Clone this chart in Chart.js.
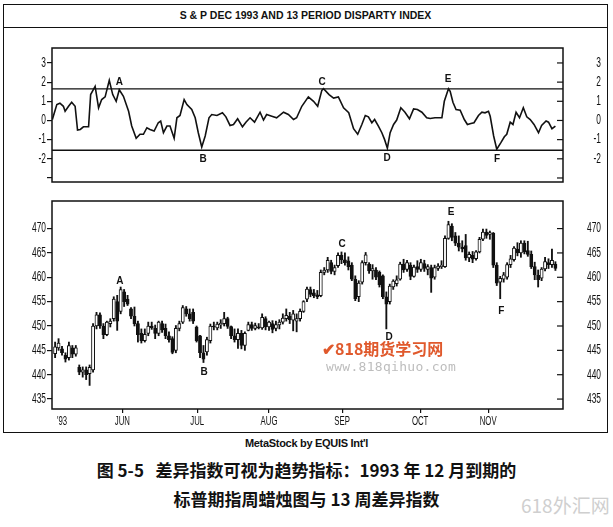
<!DOCTYPE html>
<html>
<head>
<meta charset="utf-8">
<script src="https://cdn.jsdelivr.net/npm/chart.js@4.4.0/dist/chart.umd.min.js"></script>
<style>
  body { margin: 0; background: #fff; width: 613px; height: 527px; position: relative; overflow: hidden; }
  .abs { position: absolute; }
  #frame { left: 3px; top: 4px; width: 605px; height: 429px; border: 1.5px solid #111; box-sizing: border-box; }
  #hdr { left: 3px; top: 4px; width: 605px; height: 24px; border-bottom: 1.5px solid #111; box-sizing: border-box;
         text-align: center; font: bold 10.5px 'Liberation Sans', Arial, sans-serif; line-height: 22px; color: #111; }
  #topBox { left: 0; top: 40px; width: 613px; height: 150px; }
  #botBox { left: 0; top: 193px; width: 613px; height: 242px; }
  #credit { left: 0; top: 437px; width: 613px; text-align: center; font: bold 11px 'Liberation Sans', Arial, sans-serif; color: #111; letter-spacing: -0.3px; }
  .cap { left: 0; width: 613px; text-align: center; font: 600 17px 'Noto Sans CJK SC', sans-serif; color: #111; }
  #wm1 { left: 322px; top: 336px; font: bold 16px 'Noto Sans CJK SC', sans-serif; color: #e0592c; }
  #wm2 { left: 326px; top: 359px; font: 13px 'DejaVu Sans Mono', monospace; color: #bdbdbd; letter-spacing: 0.3px; }
  #wm3 { left: 521px; top: 491px; font: 19px 'Noto Sans CJK SC', sans-serif; color: #cfcfcf; }
</style>
</head>
<body>
<div id="frame" class="abs"></div>
<div id="hdr" class="abs">S &amp; P DEC 1993 AND 13 PERIOD DISPARTY INDEX</div>
<div id="topBox" class="abs"><canvas id="dispChart"></canvas></div>
<div id="botBox" class="abs"><canvas id="priceChart"></canvas></div>
<div id="wm1" class="abs">✔818期货学习网</div>
<div id="wm2" class="abs">www.818qihuo.com</div>
<div id="credit" class="abs">MetaStock by EQUIS Int'l</div>
<div class="abs cap" style="top:457px">图 5-5&nbsp;&nbsp;&nbsp;差异指数可视为趋势指标：1993 年 12 月到期的</div>
<div class="abs cap" style="top:486px">标普期指周蜡烛图与 13 周差异指数</div>
<div id="wm3" class="abs">618外汇网</div>

<script>
// 13 period disparity index (trading day, value)
const dispT = [
  -0.8, 0.5, 1.4, 2.4, 2.9, 3.9, 4.8, 5.8, 6.5, 7.3, 8.2, 9.7, 10.3, 11.6, 12.6, 13.5, 14.5, 15.7, 16.7, 17.7,
  18.6, 19.8, 21.3, 22.2, 23.5, 24.6, 25.6, 26.6, 27.5, 28.7, 29.9, 30.6, 31.4, 32.4, 33.3, 34.5, 35.3, 36.2, 37.4, 38.2,
  39.6, 40.6, 41.5, 42.5, 43.5, 44.6,
  45.4, 46.9, 48.5, 49.5, 50.7, 51.7, 52.9, 54.3, 55.3, 56.5, 57.8, 59.4, 60.4, 61.3, 62.8, 64.2, 66.2, 67.6, 69.1, 70.0,
  71.5, 73.4, 74.9, 76.1, 77.3, 77.8, 79.4, 80.7, 82.1, 83.6, 85.1, 86.5, 87.7, 88.9, 89.9, 90.8, 91.8, 92.6, 93.7, 94.7,
  95.5, 96.3, 97.1, 98.1, 99.0, 100.2, 101.4, 102.7, 103.9, 105.0, 106.3, 107.7, 108.7, 110.1, 112.1, 112.8, 114.0, 114.5, 115.3, 116.2,
  117.4, 118.6, 119.5, 120.5, 121.4, 122.7, 123.7, 124.6, 125.6, 126.1, 127.1, 128.0, 129.2, 130.2, 130.9, 131.9, 132.7, 133.6, 134.6, 135.7,
  136.7, 137.7, 138.8, 140.1, 141.0, 142.3, 143.0, 144.0, 145.0
];
const dispV = [
  0.05, 0.83, 0.9, 0.74, 0.48, 0.74, 0.95, 0.74, -0.5, -0.47, -0.33, -0.33, 1.35, 1.78, 0.66, 1.09, 1.23, 2.09, 1.35, 1.0,
  1.6, 1.26, 0.48, -0.29, -0.93, -0.72, -0.72, -0.38, -0.47, -0.55, -0.12, -0.03, -0.64, -0.29, -0.29, -0.93, 0.14, 0.26, 1.09, 0.83,
  0.57, 0.14, -0.64, -1.38, -0.81, 0.14,
  0.31, 0.26, 0.4, 0.19, -0.26, -0.21, 0.09, -0.33, -0.09, 0.14, -0.09, 0.43, 0.02, 0.31, 0.22, 0.14, 0.43, 0.31, 0.05, 0.14,
  0.74, 1.23, 1.0, 0.74, 1.57, 1.66, 1.35, 1.17, 1.23, 0.66, 0.4, -0.43, -0.72, -0.21, 0.26, 0.19, -0.12, 0.05, -0.29, -0.64,
  -1.0, -1.45, -0.64, -0.21, 0.02, 0.66, 0.43, 0.09, 0.6, 0.57, 0.43, 0.14, 0.1, 0.14, 0.14, 1.0, 1.65, 1.52, 0.95, 0.57,
  0.54, 0.05, -0.21, -0.16, -0.12, 0.26, 0.43, 0.4, 0.48, 0.22, -0.81, -1.5, -1.16, -0.85, -0.72, -0.09, -0.21, 0.43, 0.14, 0.66,
  0.19, 0.05, -0.21, -0.64, -0.26, -0.03, -0.09, -0.43, -0.29
];
const bandLevels = [1.65, -1.55];
const dispTicks = [-3, -2, -1, 0, 1, 2, 3];

// S&P Dec 1993 daily bars, one per trading day from mid May to end Nov
const openP = [
  444.3, 445.5, 445.3, 444.0, 443.5, 445.5, 444.2, 441.5, 440.5, 441.0,
  440.2, 441.0, 450.0, 452.3, 450.0, 448.2, 450.5, 451.5, 455.0, 453.0,
  457.0, 455.5, 453.5, 452.0, 450.5, 448.5, 447.0, 448.5, 450.0, 449.5,
  448.5, 450.5, 449.5, 448.0, 447.4, 445.0, 449.5, 450.8, 453.5, 452.5,
  452.8, 449.8, 448.0, 444.5, 444.7, 447.0, 450.0, 449.6, 450.2, 450.5,
  451.5, 449.9, 448.0, 447.2, 448.5, 446.0, 449.1, 450.3, 449.5, 449.8,
  449.6, 451.5, 449.8, 450.5, 449.5, 450.2, 450.8, 451.5, 452.0, 451.2,
  451.0, 451.5, 453.0, 455.5, 457.5, 456.8, 456.4, 456.2, 461.0, 461.5,
  463.0, 461.2, 462.4, 464.5, 463.6, 463.4, 462.5, 459.6, 456.0, 459.0,
  463.0, 462.7, 461.3, 461.5, 461.0, 460.3, 456.0, 455.0, 458.0, 458.7,
  459.6, 462.7, 461.6, 462.5, 460.2, 462.2, 461.6, 462.8, 461.6, 462.0,
  460.0, 461.8, 462.2, 462.2, 468.0, 470.5, 468.5, 467.0, 466.2, 466.5,
  464.0, 464.5, 463.8, 465.2, 467.8, 469.3, 468.8, 469.0, 462.5, 459.0,
  459.6, 460.0, 462.6, 463.6, 465.8, 465.0, 467.0, 465.5, 464.7, 462.2,
  460.4, 459.8, 461.7, 463.0, 462.6, 462.7
];
const highP = [
  446.7, 447.4, 445.8, 444.5, 446.7, 446.0, 446.0, 442.0, 441.6, 441.6,
  442.0, 450.5, 452.8, 452.7, 450.5, 451.0, 451.5, 456.0, 456.3, 458.0,
  457.5, 456.3, 453.8, 453.9, 451.0, 449.4, 449.4, 450.8, 450.8, 450.2,
  451.0, 451.0, 450.4, 448.8, 447.8, 450.1, 451.0, 454.2, 454.0, 453.5,
  453.5, 450.0, 448.1, 446.0, 447.7, 450.4, 450.8, 450.8, 451.3, 452.8,
  451.8, 450.0, 449.4, 449.4, 449.1, 448.8, 450.8, 450.8, 450.6, 450.5,
  452.5, 451.9, 451.0, 451.1, 451.0, 451.3, 452.5, 453.5, 452.8, 453.2,
  452.5, 453.5, 455.2, 458.0, 458.0, 457.5, 457.3, 461.5, 462.0, 464.1,
  463.5, 462.5, 465.0, 465.2, 465.0, 464.2, 463.0, 460.3, 459.3, 463.4,
  465.1, 463.0, 462.6, 462.0, 461.3, 460.5, 457.0, 458.6, 459.5, 460.3,
  463.1, 463.7, 463.5, 463.0, 462.5, 463.4, 463.7, 463.5, 462.6, 462.5,
  462.5, 462.8, 463.4, 468.5, 471.5, 471.0, 469.2, 468.5, 467.5, 468.8,
  465.2, 465.3, 465.5, 468.2, 469.9, 469.9, 469.5, 469.2, 463.0, 460.2,
  461.0, 463.0, 464.5, 466.3, 467.1, 467.5, 467.5, 467.4, 465.4, 463.1,
  461.5, 462.0, 464.1, 463.8, 465.8, 463.2
];
const lowP = [
  443.5, 445.0, 444.0, 442.6, 443.0, 443.5, 443.8, 440.0, 439.5, 439.0,
  437.8, 440.5, 449.4, 449.5, 447.4, 448.0, 449.8, 451.0, 449.1, 452.5,
  454.0, 454.2, 451.5, 450.0, 446.7, 446.5, 446.7, 448.0, 449.3, 447.4,
  448.0, 448.7, 447.4, 446.7, 444.3, 444.5, 449.0, 450.5, 452.0, 451.0,
  450.5, 446.7, 443.5, 442.5, 444.0, 446.5, 449.2, 449.2, 449.5, 450.0,
  449.5, 447.4, 446.7, 445.4, 445.3, 445.0, 449.0, 449.1, 449.2, 449.4,
  449.3, 449.2, 449.1, 448.6, 449.0, 449.4, 450.4, 451.0, 450.5, 449.0,
  448.8, 451.0, 452.8, 455.0, 456.0, 455.8, 455.6, 456.0, 460.5, 461.0,
  460.7, 460.5, 462.0, 462.8, 462.5, 461.5, 459.3, 455.2, 455.0, 458.6,
  462.5, 460.8, 459.6, 459.5, 458.0, 455.6, 449.4, 454.5, 457.5, 458.2,
  459.4, 461.0, 461.2, 459.5, 460.0, 461.0, 461.2, 461.2, 460.5, 456.9,
  459.6, 461.4, 461.8, 462.0, 467.8, 467.5, 466.5, 465.4, 465.2, 463.5,
  463.2, 463.0, 463.5, 465.0, 467.5, 468.0, 467.8, 462.0, 458.3, 455.6,
  459.0, 459.6, 462.0, 463.3, 464.4, 464.1, 464.8, 464.3, 461.8, 459.5,
  458.0, 459.3, 461.3, 461.8, 462.0, 461.4
];
const closeP = [
  445.7, 446.5, 444.5, 443.2, 446.0, 444.2, 445.5, 440.5, 441.0, 440.0,
  441.5, 450.0, 452.3, 450.0, 448.2, 450.8, 451.0, 455.5, 451.0, 457.5,
  455.0, 454.5, 452.0, 450.5, 448.2, 447.0, 448.3, 450.0, 449.6, 448.5,
  450.8, 449.2, 448.0, 447.2, 444.6, 449.5, 450.5, 453.8, 452.5, 451.5,
  451.0, 447.0, 444.5, 443.2, 447.2, 450.0, 449.8, 450.4, 450.6, 451.5,
  449.9, 448.0, 447.2, 448.5, 446.0, 448.5, 450.3, 449.5, 450.1, 449.6,
  451.8, 449.8, 450.8, 449.3, 450.3, 450.8, 451.6, 452.2, 451.3, 452.5,
  451.5, 453.0, 455.0, 457.6, 456.5, 456.2, 456.0, 461.0, 461.5, 463.5,
  461.2, 462.0, 464.5, 463.6, 463.0, 462.2, 459.6, 455.6, 458.8, 463.0,
  464.6, 461.3, 461.8, 460.0, 458.5, 456.0, 454.5, 458.2, 459.2, 459.5,
  462.7, 461.5, 463.0, 460.2, 462.1, 461.6, 463.0, 461.8, 462.2, 459.8,
  462.0, 462.3, 462.5, 468.0, 470.8, 468.2, 467.0, 466.2, 465.8, 464.0,
  464.7, 463.7, 465.2, 467.8, 469.3, 468.6, 469.2, 462.5, 458.8, 459.8,
  460.5, 462.6, 463.8, 466.0, 465.0, 467.0, 465.2, 464.7, 462.2, 460.5,
  459.5, 461.7, 463.2, 462.6, 463.5, 461.8
];
const priceTicks = [435, 440, 445, 450, 455, 460, 465, 470];

// month markers on the time axis (trading day index)
const monthDay = [2, 19.5, 41.2, 62, 83.2, 105.8, 125.5];
const monthLabel = ["'93", 'JUN', 'JUL', 'AUG', 'SEP', 'OCT', 'NOV'];

// turning point letters
const markLabel = ['A', 'B', 'C', 'D', 'E', 'F'];
const markDispDay = [18.6, 42.9, 77.4, 96.2, 113.9, 128.1];
const markDispVal = [2.0, -2.0, 2.0, -1.97, 2.15, -2.0];
const markPriceDay = [18.8, 43.2, 83.2, 96.8, 114.8, 129.3];
const markPriceVal = [459.1, 440.5, 466.7, 447.7, 473.4, 453.0];

const dayMin = -0.9, dayMax = 147.2;
const ink = '#111';
const narrow = 0.6;   // the scanned axis font is a condensed face
const tickFont = { family: "'Liberation Sans', Arial, sans-serif", size: 14, lineHeight: 1 };

const yAxes = function(min, max, vals, fmt) {
  return {
    y: {
      type: 'linear', position: 'left', min: min, max: max,
      afterBuildTicks: s => { s.ticks = vals.map(v => ({ value: v })); },
      afterFit: s => { s.width = 52; },
      grid: { drawOnChartArea: false, drawTicks: true, tickLength: 5, color: ink, lineWidth: 1.2 },
      border: { display: false },
      ticks: { font: tickFont, color: ink, padding: 1, callback: fmt }
    },
    y2: {
      type: 'linear', position: 'right', min: min, max: max,
      afterBuildTicks: s => { s.ticks = vals.map(v => ({ value: v })); },
      afterFit: s => { s.width = 38; },
      grid: { display: false },
      border: { display: false },
      ticks: { font: tickFont, color: ink, padding: 0, crossAlign: 'far', callback: fmt }
    }
  };
};

// draw the library's tick labels squeezed horizontally
const narrowLabels = {
  id: 'narrowLabels',
  afterUpdate(chart) {
    Object.values(chart.scales).forEach(scale => {
      if (scale._narrow) return;
      scale._narrow = true;
      scale.drawLabels = function(area) {
        if (!this.options.ticks.display) return;
        const ctx = this.ctx;
        this.getLabelItems(area).forEach(it => {
          const o = it.options;
          const lines = Array.isArray(it.label) ? it.label : [it.label];
          ctx.save();
          ctx.translate(o.translation[0], o.translation[1]);
          ctx.scale(narrow, 1);
          ctx.font = it.font.string;
          ctx.fillStyle = o.color;
          ctx.textAlign = o.textAlign;
          ctx.textBaseline = o.textBaseline;
          lines.forEach((ln, k) => ctx.fillText(ln, 0, it.textOffset + k * it.font.lineHeight));
          ctx.restore();
        });
      };
    });
  }
};

// box round the plot, inner ticks on the right and the A-F letters
const framePlugin = {
  id: 'frame',
  afterDraw(chart, args, opts) {
    const ctx = chart.ctx, a = chart.chartArea;
    const xs = chart.scales.x, ys = chart.scales.y;
    ctx.save();
    ctx.strokeStyle = ink;
    ctx.lineWidth = 1.5;
    ctx.strokeRect(a.left, a.top, a.right - a.left, a.bottom - a.top);
    ctx.lineWidth = 1.2;
    ys.ticks.forEach(t => {
      const py = ys.getPixelForValue(t.value);
      ctx.beginPath();
      ctx.moveTo(a.right - 6, py);
      ctx.lineTo(a.right, py);
      ctx.stroke();
    });
    ctx.fillStyle = ink;
    ctx.font = "bold 10px 'Liberation Sans', Arial, sans-serif";
    ctx.textAlign = 'center';
    ctx.textBaseline = 'middle';
    markLabel.forEach((m, i) => {
      ctx.fillText(m, xs.getPixelForValue(opts.days[i]), ys.getPixelForValue(opts.vals[i]));
    });
    ctx.restore();
  }
};

Chart.defaults.animation = false;

// Disparity index panel
const dispScales = yAxes(-3.21, 3.78, dispTicks, v => (v === -3 ? '' : String(v)));
dispScales.x = { type: 'linear', min: dayMin, max: dayMax, display: false };

new Chart(document.getElementById('dispChart'), {
  type: 'line',
  data: {
    datasets: [{
      data: dispT.map((t, i) => ({ x: t, y: dispV[i] })),
      borderColor: ink, borderWidth: 1.6, pointRadius: 0, tension: 0
    }].concat(bandLevels.map(lv => ({
      data: [{ x: dayMin, y: lv }, { x: dayMax, y: lv }],
      borderColor: ink, borderWidth: 1.4, pointRadius: 0
    })))
  },
  options: {
    responsive: true, maintainAspectRatio: false,
    layout: { padding: { top: 8, bottom: 7, left: 0, right: 12 } },
    scales: dispScales,
    plugins: {
      legend: { display: false }, tooltip: { enabled: false },
      frame: { days: markDispDay, vals: markDispVal }
    }
  },
  plugins: [narrowLabels, framePlugin]
});

// Candlestick panel
const priceScales = yAxes(432.96, 475.66, priceTicks, v => String(v));
priceScales.x = {
  type: 'linear', min: dayMin, max: dayMax, offset: false,
  afterBuildTicks: s => { s.ticks = monthDay.map(v => ({ value: v })); },
  afterFit: s => { s.height = 24; },
  grid: {
    offset: false, drawOnChartArea: false, drawTicks: true, tickLength: 4, lineWidth: 1.2,
    color: c => (c.index === 0 ? 'rgba(0,0,0,0)' : ink)
  },
  border: { display: false },
  ticks: {
    autoSkip: false, maxRotation: 0, padding: 2, color: ink,
    font: { family: tickFont.family, size: 13, lineHeight: 1 },
    callback: (v, i) => monthLabel[i]
  }
};

new Chart(document.getElementById('priceChart'), {
  type: 'bar',
  data: {
    datasets: [{
      // bodies
      data: openP.map((o, i) => ({ x: i, y: [o, closeP[i]] })),
      backgroundColor: openP.map((o, i) => (closeP[i] >= o ? '#fff' : ink)),
      borderColor: ink, borderWidth: 1, borderSkipped: false,
      barThickness: 3.2, minBarLength: 1, grouped: false, order: 0
    }, {
      // wicks
      data: lowP.map((l, i) => ({ x: i, y: [l, highP[i]] })),
      backgroundColor: ink, borderWidth: 0,
      barThickness: 1.2, grouped: false, order: 1
    }]
  },
  options: {
    responsive: true, maintainAspectRatio: false,
    layout: { padding: { top: 7, bottom: 2, left: 0, right: 12 } },
    scales: priceScales,
    plugins: {
      legend: { display: false }, tooltip: { enabled: false },
      frame: { days: markPriceDay, vals: markPriceVal }
    }
  },
  plugins: [narrowLabels, framePlugin]
});
</script>
</body>
</html>
